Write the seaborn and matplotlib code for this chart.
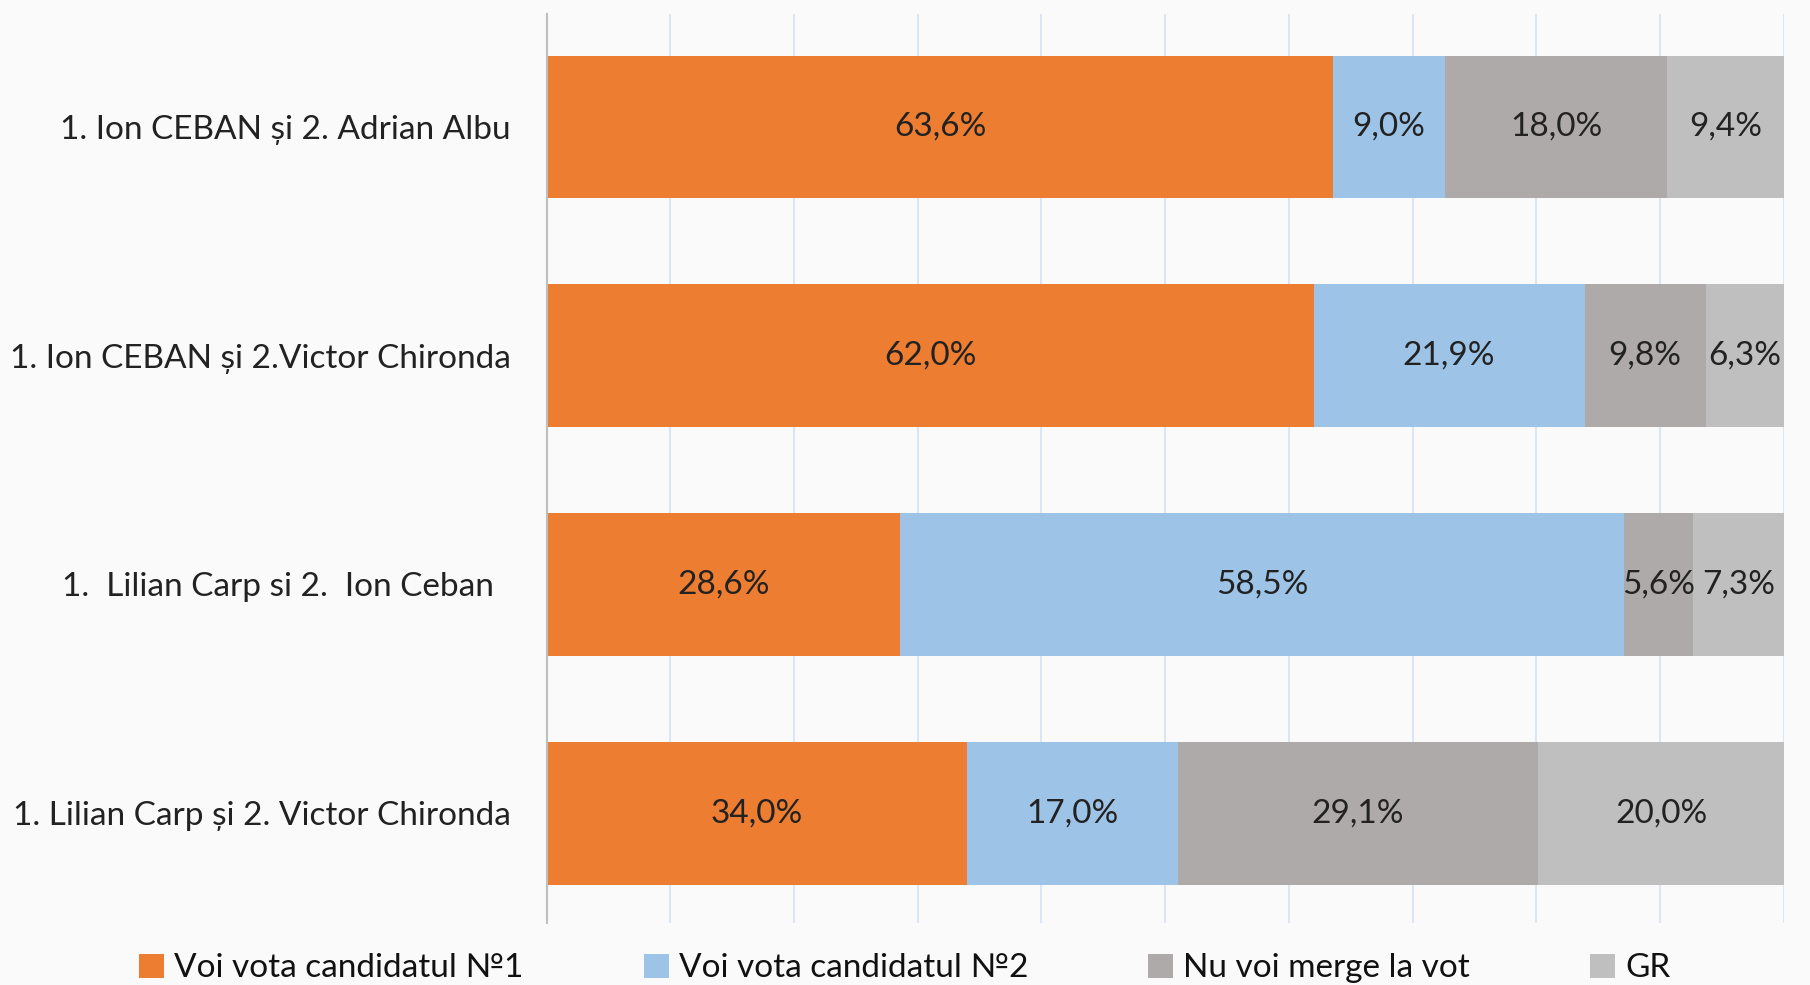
import matplotlib
matplotlib.use("Agg")
import matplotlib.pyplot as plt
import seaborn as sns
import numpy as np
import pandas as pd
from matplotlib.patches import Patch

categories = [
    "1. Ion CEBAN și 2. Adrian Albu",
    "1. Ion CEBAN și 2.Victor Chironda",
    "1.  Lilian Carp si 2.  Ion Ceban  ",
    "1. Lilian Carp și 2. Victor Chironda",
]
series_names = ["Voi vota candidatul №1", "Voi vota candidatul №2", "Nu voi merge la vot", "GR"]
cand1 = [63.6, 62.0, 28.6, 34.0]
cand2 = [9.0, 21.9, 58.5, 17.0]
novote = [18.0, 9.8, 5.6, 29.1]
gr = [9.4, 6.3, 7.3, 20.0]
colors = ["#ED7D31", "#9DC3E6", "#AEAAAA", "#BFBFBF"]

sns.set_style("white")
plt.rcParams["font.family"] = ["Lato", "DejaVu Sans"]

bg = "#FAFAFA"
fig = plt.figure(figsize=(18.10, 9.85), dpi=100, facecolor=bg)
ax = fig.add_axes([0.302, 0.063, 0.6835, 0.923])
ax.set_facecolor(bg)

vals = np.array([cand1, cand2, novote, gr])
cum = np.cumsum(vals, axis=0)

for i in range(len(series_names) - 1, -1, -1):
    df = pd.DataFrame({"cat": categories, "val": cum[i]})
    sns.barplot(data=df, y="cat", x="val", orient="h", color=colors[i],
                saturation=1, width=0.625, ax=ax, linewidth=0, zorder=2)

for i in range(len(series_names)):
    starts = cum[i] - vals[i]
    for j in range(len(categories)):
        ax.text(starts[j] + vals[i][j] / 2, j, f"{vals[i][j]:.1f}%".replace(".", ","),
                ha="center", va="center", fontsize=24, color="#222222",
                zorder=5, clip_on=False)

ax.set_xlim(0, 100)
ax.set_ylim(3.48, -0.495)
ax.set_xticks(np.arange(0, 101, 10))
ax.xaxis.grid(True, color="#DCE6F2", linewidth=1.5, zorder=0)
ax.set_axisbelow(True)
ax.tick_params(axis="x", length=0, labelbottom=False)
ax.tick_params(axis="y", length=0, pad=26, labelsize=24, labelcolor="#222222")
ax.set_xlabel("")
ax.set_ylabel("")
for s in ["top", "right", "bottom"]:
    ax.spines[s].set_visible(False)
ax.spines["left"].set_color("#BFBFBF")
ax.spines["left"].set_linewidth(1.5)

handles = [Patch(facecolor=c, edgecolor="none") for c in colors]
leg = fig.legend(handles, series_names, loc="lower left", bbox_to_anchor=(0.0697, -0.012),
                 ncol=4, frameon=False, handlelength=0.75, handleheight=0.75,
                 handletextpad=0.3, columnspacing=3.6, borderaxespad=0,
                 prop={"family": ["Lato", "DejaVu Sans"], "size": 24})
for t in leg.get_texts():
    t.set_color("#111111")

fig.savefig("out.png", dpi=100, facecolor=bg)
